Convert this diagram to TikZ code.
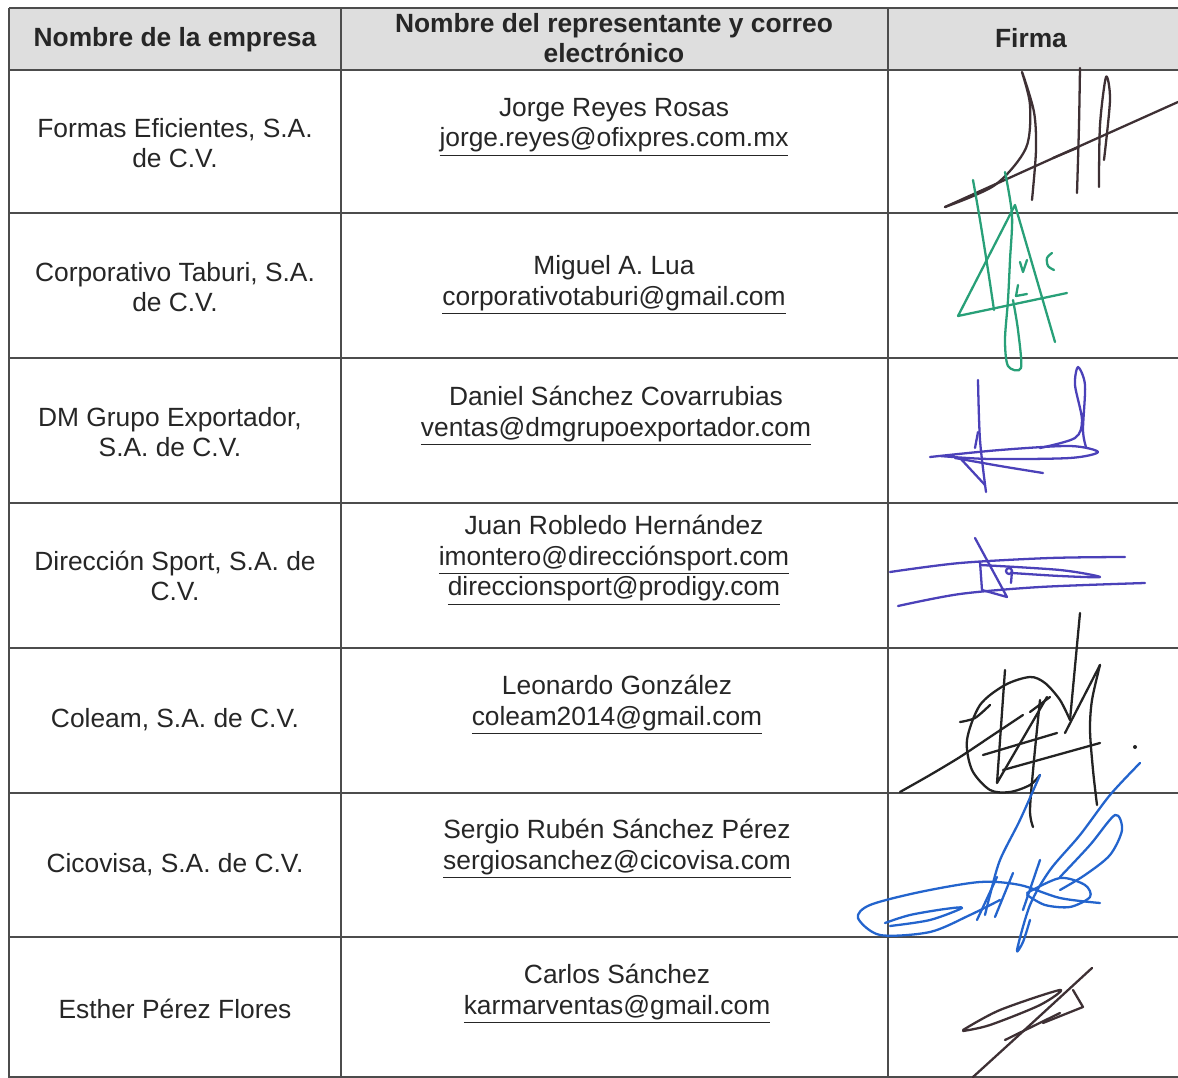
\documentclass[tikz,border=0pt]{standalone}
\usepackage{fontspec}
\setmainfont{Liberation Sans}
\usetikzlibrary{positioning}

\definecolor{pencil}{RGB}{62,48,52}
\definecolor{greenink}{RGB}{40,160,120}
\definecolor{violetink}{RGB}{75,65,185}
\definecolor{blackink}{RGB}{35,35,35}
\definecolor{blueink}{RGB}{35,100,205}
\definecolor{headgray}{RGB}{222,222,222}

\begin{document}
\begin{tikzpicture}[
						x=0.02cm, y=-0.02cm,
						rule/.style = {draw=black!70, line width=0.8pt},
						cell/.style = {align=center, text=black!85, font=\fontsize{15}{17.5}\selectfont, inner sep=0pt},
						head/.style = {cell, font=\fontsize{15}{17.5}\selectfont\bfseries},
						ink/.style = {line width=1.3pt, line cap=round, line join=round}
					]
\useasboundingbox (0,0) rectangle (1178,1078);
\fill[white] (0,0) rectangle (1178,1078);
\fill[headgray] (9,8) rectangle (1178,70);

\foreach \y in {8,70,213,358,503,648,793,937,1077}
	\draw[rule] (9,\y) -- (1178,\y);
\foreach \x in {9,341,888}
	\draw[rule] (\x,8) -- (\x,1078);

\node[head] (h1) at (175,40) {Nombre de la empresa};
\node[head] (h2) at (614,38) {Nombre del representante y correo\\electrónico};
\node[head] (h3) at (1031,38) {Firma};

\node[cell] (emp1) at (175,143) {Formas Eficientes, S.A.\\de C.V.};
\node[cell] (emp2) at (175,287) {Corporativo Taburi, S.A.\\de C.V.};
\node[cell] (emp3) at (170,432) {DM Grupo Exportador,\\S.A. de C.V.};
\node[cell] (emp4) at (175,576) {Dirección Sport, S.A. de\\C.V.};
\node[cell] (emp5) at (175,720) {Coleam, S.A. de C.V.};
\node[cell] (emp6) at (175,865) {Cicovisa, S.A. de C.V.};
\node[cell] (emp7) at (175,1009) {Esther Pérez Flores};

\node[cell] (rep1) at (614,127) {Jorge Reyes Rosas\\\underline{jorge.reyes@ofixpres.com.mx}};
\node[cell] (rep2) at (614,285) {Miguel A. Lua\\\underline{corporativotaburi@gmail.com}};
\node[cell] (rep3) at (616,416) {Daniel Sánchez Covarrubias\\\underline{ventas@dmgrupoexportador.com}};
\node[cell] (rep4) at (614,560) {Juan Robledo Hernández\\\underline{imontero@direcciónsport.com}\\\underline{direccionsport@prodigy.com}};
\node[cell] (rep5) at (617,705) {Leonardo González\\\underline{coleam2014@gmail.com}};
\node[cell] (rep6) at (617,849) {Sergio Rubén Sánchez Pérez\\\underline{sergiosanchez@cicovisa.com}};
\node[cell] (rep7) at (617,994) {Carlos Sánchez\\\underline{karmarventas@gmail.com}};

\draw[ink, pencil] plot[smooth] coordinates {(945,207) (1060,155) (1178,102)};
\draw[ink, pencil] plot[smooth] coordinates {(945,207) (995,185) (1026,148) (1030,105) (1022,72) (1034,112) (1036,150) (1032,200)};
\draw[ink, pencil] plot[smooth] coordinates {(1080,68) (1079,125) (1077,193)};
\draw[ink, pencil] plot[smooth] coordinates {(1099,187) (1100,125) (1106,77) (1110,100) (1104,160)};
\draw[ink, pencil] (1053,158) -- (1077,148);

\draw[ink, greenink] plot[smooth] coordinates {(973,180) (980,220) (988,270) (994,310)};
\draw[ink, greenink] plot[smooth] coordinates {(1005,172) (1012,215) (1010,260) (1008,300) (1005,340) (1008,366) (1021,368) (1018,330) (1013,300)};
\draw[ink, greenink] (1067,293) -- (958,316) -- (1015,205) -- (1055,342);
\draw[ink, greenink] (1020,262) -- (1023,272) -- (1027,260);
\draw[ink, greenink] plot[smooth] coordinates {(1052,253) (1047,258) (1048,266) (1054,270)};
\draw[ink, greenink] (1018,285) -- (1016,296) -- (1027,294);

\draw[ink, violetink] plot[smooth] coordinates {(930,457) (1000,450) (1070,446) (1098,452) (1070,458) (990,459) (940,456)};
\draw[ink, violetink] plot[smooth] coordinates {(978,380) (980,440) (986,492)};
\draw[ink, violetink] (975,448) -- (978,432);
\draw[ink, violetink] plot[smooth] coordinates {(1040,448) (1075,438) (1082,420) (1075,385) (1078,367) (1085,385) (1083,430) (1086,447)};
\draw[ink, violetink] plot[smooth] coordinates {(955,458) (1000,466) (1043,473)};
\draw[ink, violetink] (960,458) -- (985,485);

\draw[ink, violetink] plot[smooth] coordinates {(890,572) (960,563) (1050,558) (1125,557)};
\draw[ink, violetink] plot[smooth] coordinates {(980,565) (1060,570) (1100,577) (1060,576) (1012,573)};
\draw[ink, violetink] plot[smooth] coordinates {(898,606) (960,594) (1040,587) (1145,583)};
\draw[ink, violetink] (975,538) -- (1007,597) -- (982,590) -- (980,562);
\draw[ink, violetink] (1009,571) circle[radius=3];
\draw[ink, violetink] (1012,571) -- (1011,583);

\draw[ink, blackink] (1080,613) -- (1070,720);
\draw[ink, blackink] plot[smooth] coordinates {(1100,665) (1092,700) (1090,730) (1093,770) (1097,805)};
\draw[ink, blackink] (1065,733) -- (1100,665);
\draw[ink, blackink] plot[smooth] coordinates {(1070,720) (1060,700) (1045,683) (1030,677) (1005,685) (980,705) (967,740) (972,770) (990,790) (1010,792) (1030,785) (1040,775)};
\draw[ink, blackink] plot[smooth] coordinates {(900,792) (930,775) (960,757) (990,737) (1023,715)};
\draw[ink, blackink] (1005,670) -- (997,783) -- (1047,697);
\draw[ink, blackink] plot[smooth] coordinates {(960,722) (975,718) (990,705)};
\draw[ink, blackink] (983,755) -- (1057,733);
\draw[ink, blackink] (1003,770) -- (1100,743);
\draw[ink, blackink] (1030,712) -- (1050,697);
\draw[ink, blackink] plot[smooth] coordinates {(1040,700) (1034,760) (1030,810) (1033,827)};
\fill[blackink] (1135,747) circle[radius=2];

\draw[ink, blueink] plot[smooth] coordinates {(1140,763) (1110,795) (1080,835) (1050,870) (1030,905) (1017,950) (1023,942) (1030,920)};
\draw[ink, blueink] plot[smooth] coordinates {(1100,903) (1060,898) (1020,885) (980,882) (920,892) (870,905) (858,918) (880,935) (930,932) (970,915) (1000,900)};
\draw[ink, blueink] plot[smooth] coordinates {(885,923) (910,915) (945,909) (962,908) (930,920) (890,926)};
\draw[ink, blueink] plot[smooth] coordinates {(1040,775) (1020,820) (1000,860) (990,895) (985,915)};
\draw[ink, blueink] (997,877) -- (977,920);
\draw[ink, blueink] (1013,873) -- (995,917);
\draw[ink, blueink] (1040,860) -- (1023,910);
\draw[ink, blueink] plot[smooth] coordinates {(1060,877) (1090,845) (1115,815) (1122,830) (1110,855) (1085,875) (1060,890)};
\draw[ink, blueink] plot[smooth] coordinates {(1027,893) (1060,878) (1085,885) (1090,897) (1070,907) (1045,905) (1027,895)};

\draw[ink, pencil] plot[smooth] coordinates {(1092,968) (1030,1025) (973,1077)};
\draw[ink, pencil] plot[smooth] coordinates {(963,1030) (1000,1010) (1060,990) (1040,1005) (990,1025) (963,1031)};
\draw[ink, pencil] (1073,990) -- (1083,1007) -- (1043,1023);
\draw[ink, pencil] (1060,1013) -- (1005,1040);
\end{tikzpicture}
\end{document}
